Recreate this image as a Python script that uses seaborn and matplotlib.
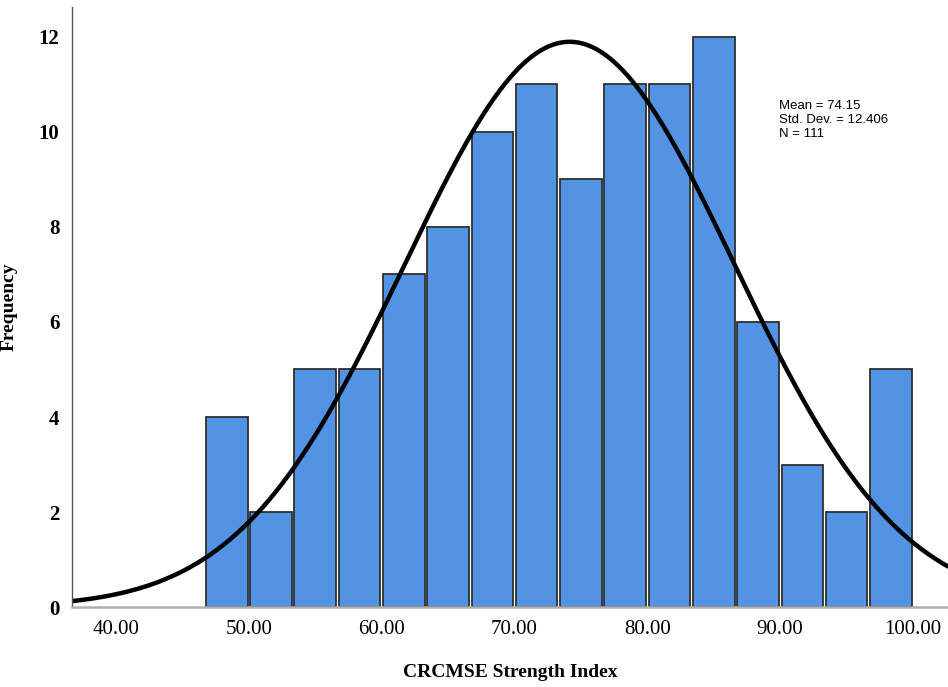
import numpy as np
import pandas as pd
import matplotlib
matplotlib.use("Agg")
import matplotlib.pyplot as plt
import seaborn as sns

# histogram values (bin width 3.333, from 46.67 to 100)
bin_edges = list(np.linspace(46.6667, 100.0, 17))
counts = [4, 2, 5, 5, 7, 8, 10, 11, 9, 11, 11, 12, 6, 3, 2, 5]
mean_val = 74.15
std_val = 12.406
n_obs = 111
x_ticks = [40, 50, 60, 70, 80, 90, 100]
y_ticks = [0, 2, 4, 6, 8, 10, 12]

edges = np.array(bin_edges)
centers = (edges[:-1] + edges[1:]) / 2
hist_df = pd.DataFrame({"score": centers, "count": counts})

# fitted normal curve scaled to frequency
bin_w = edges[1] - edges[0]
xs = np.linspace(36.69, 102.63, 400)
ys = n_obs * bin_w * np.exp(-0.5 * ((xs - mean_val) / std_val) ** 2) / (std_val * np.sqrt(2 * np.pi))
curve_df = pd.DataFrame({"x": xs, "y": ys})

sns.set_style("white")
fig = plt.figure(figsize=(9.48, 6.87), dpi=100)
ax = fig.add_axes([0.076, 0.1164, 0.924, 0.8734])

sns.histplot(data=hist_df, x="score", weights="count", bins=bin_edges, shrink=0.94,
             color="#5293E3", edgecolor="#2f2f2f", linewidth=1.3, alpha=1.0, ax=ax)
sns.lineplot(data=curve_df, x="x", y="y", color="black", linewidth=3.2, ax=ax)

ax.set_xlim(36.69, 102.63)
ax.set_ylim(0, 12.63)
ax.set_xticks(x_ticks)
ax.set_xticklabels([f"{v:.2f}" for v in x_ticks], family="Liberation Serif", fontsize=15,
                   color="black")
ax.set_yticks(y_ticks)
ax.set_yticklabels([str(v) for v in y_ticks], family="Liberation Serif", fontsize=15,
                   color="black", fontweight="semibold")
ax.tick_params(length=0, pad=9)

ax.set_xlabel("CRCMSE Strength Index", family="Liberation Serif", fontsize=14,
              fontweight="bold", color="black")
ax.set_ylabel("Frequency", family="Liberation Serif", fontsize=14,
              fontweight="bold", color="black")
ax.xaxis.set_label_coords(0.5, -0.095)
ax.yaxis.set_label_coords(-0.062, 0.5)

for side in ["top", "right"]:
    ax.spines[side].set_visible(False)
ax.spines["left"].set_color("#555555")
ax.spines["left"].set_linewidth(1.0)
ax.spines["bottom"].set_color("#b0b0b0")
ax.spines["bottom"].set_linewidth(1.8)

ax.text(0.807, 0.845, f"Mean = {mean_val}\nStd. Dev. = {std_val}\nN = {n_obs}",
        transform=ax.transAxes, family="Liberation Sans", fontsize=9.5,
        color="black", va="top", ha="left", linespacing=1.2)

fig.savefig("out.png", dpi=100)
